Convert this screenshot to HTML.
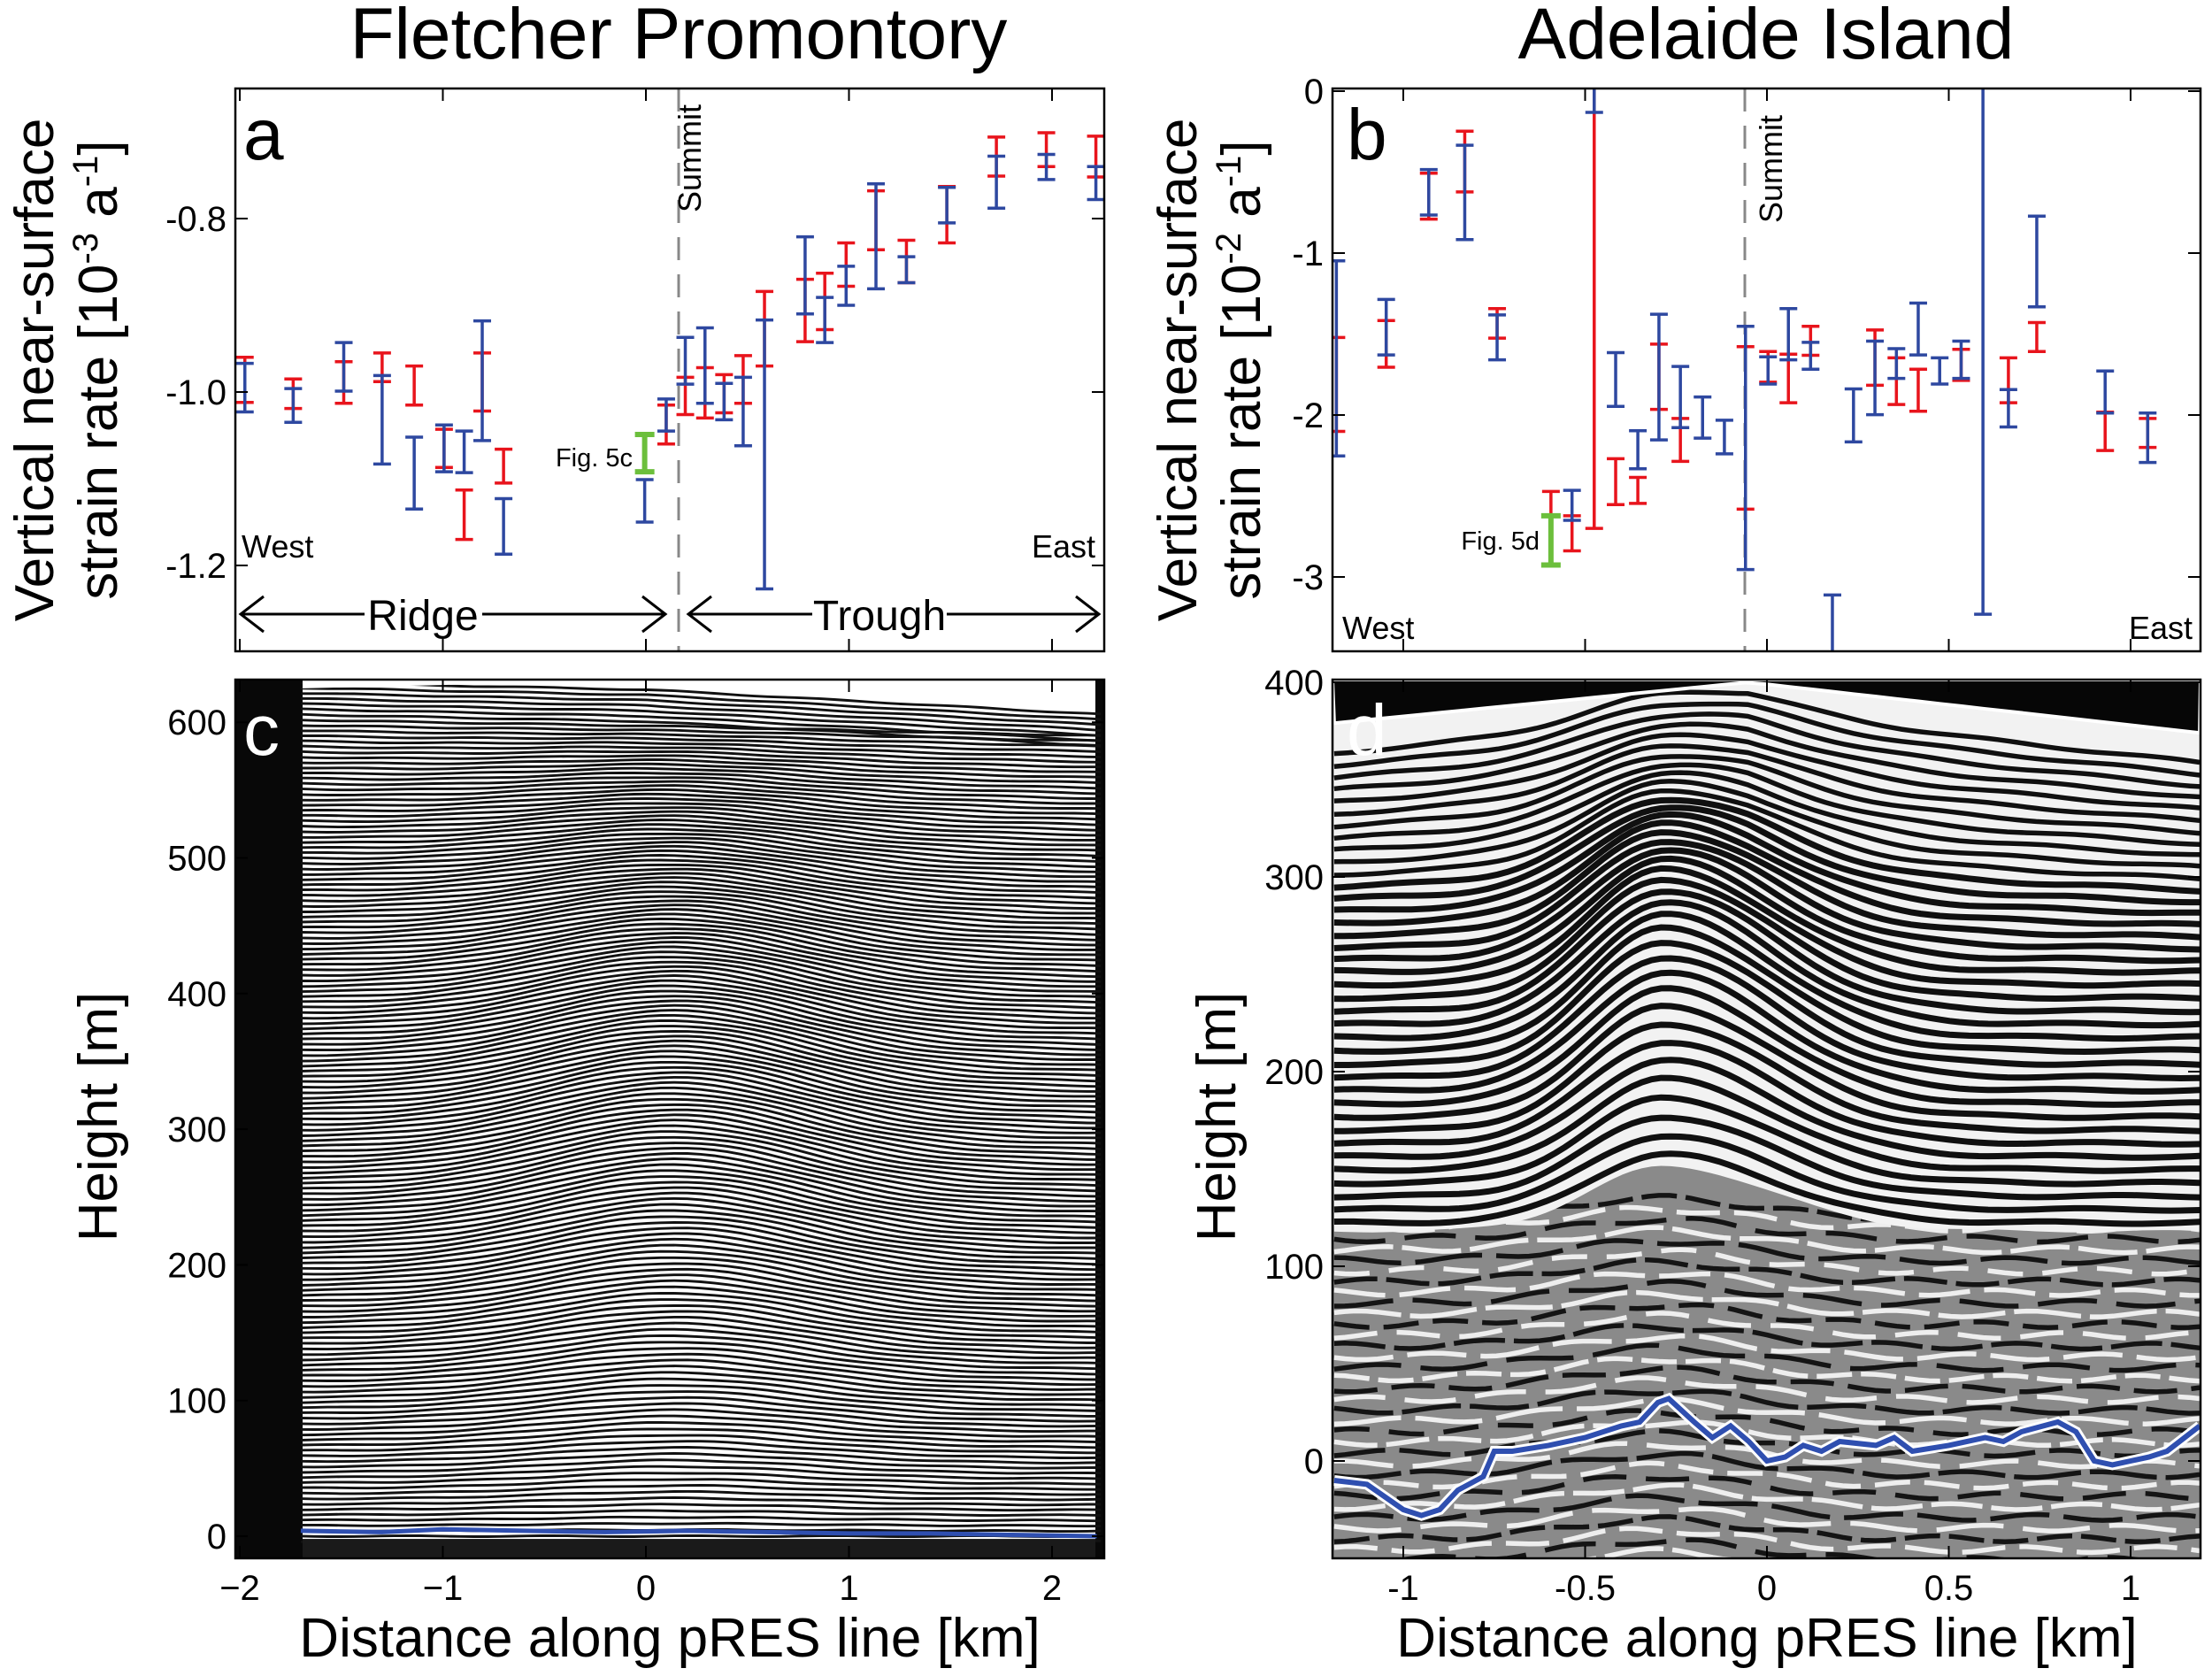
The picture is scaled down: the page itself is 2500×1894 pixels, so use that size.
<!DOCTYPE html>
<html><head><meta charset="utf-8">
<style>
html,body{margin:0;padding:0;background:#fff;width:2500px;height:1894px;overflow:hidden;position:relative;}
svg{display:block;font-family:"Liberation Sans",Arial,sans-serif;}
</style></head>
<body>
<svg id="fig" width="2500" height="1894" viewBox="0 0 2500 1894" xmlns="http://www.w3.org/2000/svg" style="position:absolute;left:0;top:0">
<defs>
<clipPath id="clipA"><rect x="266" y="100" width="982" height="636"/></clipPath>
<clipPath id="clipB"><rect x="1506" y="100" width="981" height="636"/></clipPath>
<clipPath id="clipC"><rect x="266" y="768" width="982" height="993"/></clipPath>
<clipPath id="clipD"><rect x="1506" y="768" width="981" height="993"/></clipPath>
</defs>
<g id="layer"></g>
</svg>
<script>
// ---------- Panel a data (strain rate, 1e-3 a^-1) ----------
const aRedX  = [-1.975,-1.737,-1.488,-1.299,-1.141,-0.994,-0.895,-0.806,-0.701,0.100,0.194,0.291,0.385,0.479,0.584,0.784,0.881,0.986,1.133,1.283,1.482,1.726,1.972,2.216];
const aRedHi = [-0.960,-0.985,-0.965,-0.955,-0.970,-1.043,-1.113,-0.955,-1.066,-1.015,-0.983,-0.972,-0.980,-0.958,-0.884,-0.870,-0.863,-0.828,-0.768,-0.825,-0.763,-0.706,-0.701,-0.705];
const aRedLo = [-1.012,-1.019,-1.013,-0.988,-1.015,-1.087,-1.170,-1.022,-1.105,-1.060,-1.026,-1.030,-1.024,-1.013,-0.970,-0.942,-0.928,-0.878,-0.836,-0.874,-0.828,-0.751,-0.740,-0.752];
const aBlueX  = [-1.975,-1.737,-1.488,-1.299,-1.141,-0.994,-0.895,-0.806,-0.701,-0.006,0.100,0.194,0.291,0.385,0.479,0.584,0.784,0.881,0.986,1.133,1.283,1.482,1.726,1.972,2.216];
const aBlueHi = [-0.967,-0.996,-0.943,-0.981,-1.052,-1.038,-1.045,-0.918,-1.123,-1.101,-1.008,-0.937,-0.926,-0.990,-0.983,-0.917,-0.821,-0.891,-0.855,-0.760,-0.844,-0.764,-0.728,-0.726,-0.740];
const aBlueLo = [-1.023,-1.035,-0.999,-1.083,-1.135,-1.092,-1.093,-1.056,-1.187,-1.150,-1.045,-0.991,-1.013,-1.032,-1.062,-1.227,-0.910,-0.943,-0.900,-0.881,-0.874,-0.805,-0.788,-0.755,-0.778];
const aGreen = [-0.006,-1.049,-1.092];
// ---------- Panel b data (strain rate, 1e-2 a^-1) ----------
const bRedX  = [-1.184,-1.047,-0.930,-0.831,-0.742,-0.594,-0.536,-0.475,-0.416,-0.355,-0.297,-0.238,-0.059,0.003,0.059,0.120,0.297,0.356,0.416,0.534,0.664,0.742,0.930,1.047];
const bRedHi = [-1.521,-1.417,-0.507,-0.247,-1.343,-2.472,-2.622,0.2,-2.270,-2.385,-1.562,-2.021,-1.578,-1.608,-1.624,-1.452,-1.475,-1.647,-1.717,-1.594,-1.647,-1.429,-1.982,-2.021];
const bRedLo = [-2.101,-1.705,-0.790,-0.622,-1.525,-2.922,-2.839,-2.700,-2.553,-2.546,-1.965,-2.286,-2.581,-1.797,-1.924,-1.631,-1.816,-1.935,-1.977,-1.786,-1.924,-1.608,-2.219,-2.200];
const bBlueX  = [-1.184,-1.047,-0.930,-0.831,-0.742,-0.536,-0.475,-0.416,-0.355,-0.297,-0.238,-0.177,-0.117,-0.059,0.003,0.059,0.120,0.180,0.238,0.297,0.356,0.416,0.475,0.534,0.594,0.664,0.742,0.930,1.047];
const bBlueHi = [-1.048,-1.286,-0.484,-0.334,-1.382,-2.465,0.3,-1.615,-2.097,-1.378,-1.700,-1.889,-2.032,-1.452,-1.641,-1.343,-1.551,-3.111,-1.839,-1.544,-1.590,-1.309,-1.647,-1.544,0.2,-1.843,-0.772,-1.728,-1.988];
const bBlueLo = [-2.253,-1.629,-0.765,-0.917,-1.659,-2.650,-0.131,-1.947,-2.332,-2.154,-2.078,-2.143,-2.240,-2.954,-1.809,-1.659,-1.717,-4.0,-2.166,-1.998,-1.774,-1.629,-1.809,-1.774,-3.230,-2.074,-1.332,-1.988,-2.293];
const bGreen = [-0.594,-2.622,-2.926];
// ---------- Bed lines ----------
const bedCx = [-1.70,-1.3,-1.0,-0.6,-0.2,0.2,0.6,1.0,1.4,1.8,2.22];
const bedCh = [4,3,5,4,3,4,3,2,2,1,0];
const bedDx = [-1.19,-1.1,-1.0,-0.95,-0.9,-0.85,-0.78,-0.75,-0.7,-0.6,-0.5,-0.4,-0.35,-0.3,-0.27,-0.2,-0.15,-0.1,-0.05,0,0.05,0.1,0.15,0.2,0.3,0.35,0.4,0.5,0.6,0.65,0.7,0.8,0.85,0.9,0.95,1.0,1.05,1.1,1.19];
const bedDh = [-10,-12,-25,-28,-25,-15,-8,5,5,8,12,18,20,30,32,20,12,18,10,0,2,8,5,10,8,12,5,8,12,10,15,20,15,0,-2,0,2,5,18];
// ---------- ticks ----------
const aYTicks=[-0.8,-1.0,-1.2], aYLabels=["-0.8","-1.0","-1.2"];
const kmTicks=[-2,-1,0,1,2], kmLabels=["\u22122","\u22121","0","1","2"];
const bYTicks=[0,-1,-2,-3], bYLabels=["0","-1","-2","-3"];
const dXTicks=[-1,-0.5,0,0.5,1], dXLabels=["-1","-0.5","0","0.5","1"];
const cYTicks=[0,100,200,300,400,500,600], cYLabels=["0","100","200","300","400","500","600"];
const dYTicks=[0,100,200,300,400], dYLabels=["0","100","200","300","400"];

const xA=v=>730+v*229.5, yA=v=>443-(v+1)*980;
const xB=v=>1997+v*411, yB=v=>103-v*183;
const yC=h=>1736-h*1.533, yD=h=>1651-h*2.2;
const NS="http://www.w3.org/2000/svg";
const root=document.getElementById('layer');
function mk(tag,attrs,parent){const e=document.createElementNS(NS,tag);for(const k in attrs)e.setAttribute(k,attrs[k]);(parent||root).appendChild(e);return e;}
function txt(s,x,y,size,anchor,parent,extra){const t=mk('text',Object.assign({x:x,y:y,'font-size':size,'text-anchor':anchor||'start',fill:'#000'},extra||{}),parent);t.textContent=s;return t;}

// ---------- Radargram C ----------
const gC=mk('g',{'clip-path':'url(#clipC)'});


mk('rect',{x:266,y:768,width:982,height:993,fill:'#fff'},gC);
mk('rect',{x:266,y:768,width:76,height:993,fill:'#080808'},gC);
mk('rect',{x:1238,y:768,width:10,height:993,fill:'#080808'},gC);
(function(){
  let k=0;
  for(let h0=624;h0>-4;h0-=3.9,k++){
    let d='';
    for(let i=0;i<=60;i++){
      const x=-1.70+i*(3.94/60);
      const s=Math.sin(Math.PI*Math.min(Math.max(h0,0),600)/600);
      let h=h0+38*s*Math.exp(-Math.pow((x-0.15)/0.9,2))-3*x*(h0/600);
      h+=0.35*Math.sin(x*9+k*0.9);
      if(h0>600) h+= (x<0?0:-5*x);
      d+=(i?'L':'M')+xA(x).toFixed(1)+' '+yC(h).toFixed(1);
    }
    mk('path',{d:d,fill:'none',stroke:'#111','stroke-width':2.9},gC);
  }
  mk('rect',{x:342,y:yC(-2),width:896,height:40,fill:'#1a1a1a'},gC);
  mk('path',{d:`M342 768 L1238 768 L1238 ${yC(612)} L${xA(0)} ${yC(631)} L342 ${yC(625)} Z`,fill:'#fff'},gC);
  let bd='';bedCx.forEach((x,i)=>{bd+=(i?'L':'M')+xA(x).toFixed(1)+' '+yC(bedCh[i]).toFixed(1);});
  const bl=mk('path',{d:bd,fill:'none',stroke:'#2f4fb0','stroke-width':5},gC);
  
  
})();

// ---------- Radargram D ----------
const gD=mk('g',{'clip-path':'url(#clipD)'});


mk('rect',{x:1506,y:768,width:981,height:993,fill:'#8a8a8a'},gD);
const surfD=x=> x<-0.05 ? 379+(x+1.19)/1.14*21 : 400-(x+0.05)/1.24*26;
function layerH(h0,x,k){
  const A=55*Math.exp(-Math.pow((h0-215)/110,2))+8;
  const sg=x<-0.28?0.3:0.42;
  let h=h0+A*Math.exp(-Math.pow((x+0.28)/sg,2));
  h+=(surfD(x)-390)*Math.max(0,(h0-250)/130);
  h+=0.6*Math.sin(x*13+k*1.3);
  return h;
}
(function(){
  let k=0;
  for(let h0=125;h0>-60;h0-=5.5,k++){
    let d='';
    for(let i=0;i<=80;i++){
      const x=-1.19+i*(2.38/80);
      const h=h0+1.5*Math.sin(x*17+k*2.3)+10*Math.exp(-Math.pow((x+0.3)/0.35,2));
      d+=(i?'L':'M')+xB(x).toFixed(1)+' '+yD(h).toFixed(1);
    }
    mk('path',{d:d,fill:'none',stroke:(k%2?'#eeeeee':'#141414'),'stroke-width':5.5,'stroke-dasharray':(40+k%5*9)+' '+(10+k%3*6)},gD);
  }
  // light background above lowest layer
  let lowest=118, lb='M1506 768';
  for(let i=0;i<=90;i++){const x=-1.19+i*(2.38/90);lb+='L'+xB(x).toFixed(1)+' '+yD(layerH(lowest,x,0)).toFixed(1);}
  lb+='L2487 768Z';
  mk('path',{d:lb,fill:'#f2f2f2'},gD);
  k=0;
  for(let h0=374;h0>=118;h0-=6.8,k++){
    let d='';
    for(let i=0;i<=90;i++){
      const x=-1.19+i*(2.38/90);
      d+=(i?'L':'M')+xB(x).toFixed(1)+' '+yD(layerH(h0,x,k)).toFixed(1);
    }
    mk('path',{d:d,fill:'none',stroke:'#101010','stroke-width':h0>300?5.5:7},gD);
  }
  let sd='M1506 768';
  for(let i=0;i<=40;i++){const x=-1.19+i*(2.38/40);sd+='L'+xB(x).toFixed(1)+' '+yD(surfD(x)).toFixed(1);}
  sd+='L2487 768Z';
  mk('path',{d:sd,fill:'#060606',stroke:'#fff','stroke-width':4},gD);
  let bd='';bedDx.forEach((x,i)=>{bd+=(i?'L':'M')+xB(x).toFixed(1)+' '+yD(bedDh[i]).toFixed(1);});
  mk('path',{d:bd,fill:'none',stroke:'#fff','stroke-width':12},gD);
  const bl=mk('path',{d:bd,fill:'none',stroke:'#2f4fb0','stroke-width':6},gD);
  
  
})();

// ---------- error bars ----------
function ebar(g,xs,his,los,fx,fy,color,name,w,cap){
  xs.forEach((x,i)=>{
    const eg=mk('g',{},g);
    
    
    const X=fx(x),Y1=fy(his[i]),Y2=fy(los[i]);
    mk('line',{x1:X,y1:Y1,x2:X,y2:Y2,stroke:color,'stroke-width':w},eg);
    mk('line',{x1:X-cap,y1:Y1,x2:X+cap,y2:Y1,stroke:color,'stroke-width':w},eg);
    mk('line',{x1:X-cap,y1:Y2,x2:X+cap,y2:Y2,stroke:color,'stroke-width':w},eg);
  });
}
const gA=mk('g',{'clip-path':'url(#clipA)'});


mk('line',{x1:767,y1:100,x2:767,y2:736,stroke:'#888','stroke-width':3,'stroke-dasharray':'26 16'},gA);
ebar(gA,aRedX,aRedHi,aRedLo,xA,yA,'#e8141c','red-errorbar-a',3.5,10);
ebar(gA,aBlueX,aBlueHi,aBlueLo,xA,yA,'#2e48a0','blue-errorbar-a',3.5,10);
ebar(gA,[aGreen[0]],[aGreen[1]],[aGreen[2]],xA,yA,'#6cbf3c','green-errorbar-a',6,11);
const gB=mk('g',{'clip-path':'url(#clipB)'});


mk('line',{x1:1972,y1:100,x2:1972,y2:736,stroke:'#888','stroke-width':3,'stroke-dasharray':'26 16'},gB);
ebar(gB,bRedX,bRedHi,bRedLo,xB,yB,'#e8141c','red-errorbar-b',3.5,10);
ebar(gB,bBlueX,bBlueHi,bBlueLo,xB,yB,'#2e48a0','blue-errorbar-b',3.5,10);
ebar(gB,[bGreen[0]],[bGreen[1]],[bGreen[2]],xB,yB,'#6cbf3c','green-errorbar-b',6,11);

// ---------- axes boxes and ticks ----------
function box(x,y,w,h,name){const r=mk('rect',{x:x,y:y,width:w,height:h,fill:'none',stroke:'#000','stroke-width':2.5});}
box(266,100,982,636,'panel-a-axes');box(1506,100,981,636,'panel-b-axes');
box(266,768,982,993,'panel-c-axes');box(1506,768,981,993,'panel-d-axes');
const tl=14;
kmTicks.forEach(v=>{const X=xA(v);
  [[100,100+tl],[736,736-tl],[768,768+tl],[1761,1761-tl]].forEach(p=>mk('line',{x1:X,y1:p[0],x2:X,y2:p[1],stroke:'#000','stroke-width':2}));});
dXTicks.forEach(v=>{const X=xB(v);
  [[100,100+tl],[736,736-tl],[768,768+tl],[1761,1761-tl]].forEach(p=>mk('line',{x1:X,y1:p[0],x2:X,y2:p[1],stroke:'#000','stroke-width':2}));});
aYTicks.forEach((v,i)=>{const Y=yA(v);mk('line',{x1:266,y1:Y,x2:266+tl,y2:Y,stroke:'#000','stroke-width':2});mk('line',{x1:1248,y1:Y,x2:1248-tl,y2:Y,stroke:'#000','stroke-width':2});
  const t=txt(aYLabels[i],256,Y+14,40,'end');});
bYTicks.forEach((v,i)=>{const Y=yB(v);mk('line',{x1:1506,y1:Y,x2:1506+tl,y2:Y,stroke:'#000','stroke-width':2});mk('line',{x1:2487,y1:Y,x2:2487-tl,y2:Y,stroke:'#000','stroke-width':2});
  const t=txt(bYLabels[i],1496,Math.max(Y+14,114),40,'end');});
cYTicks.forEach((v,i)=>{const Y=yC(v);mk('line',{x1:266,y1:Y,x2:266+tl,y2:Y,stroke:'#000','stroke-width':2});mk('line',{x1:1248,y1:Y,x2:1248-tl,y2:Y,stroke:'#000','stroke-width':2});
  const t=txt(cYLabels[i],256,Y+14,40,'end');});
dYTicks.forEach((v,i)=>{const Y=yD(v);mk('line',{x1:1506,y1:Y,x2:1506+tl,y2:Y,stroke:'#000','stroke-width':2});mk('line',{x1:2487,y1:Y,x2:2487-tl,y2:Y,stroke:'#000','stroke-width':2});
  const t=txt(dYLabels[i],1496,Y+14,40,'end');});
kmTicks.forEach((v,i)=>{const t=txt(kmLabels[i],xA(v),1808,40,'middle');});
dXTicks.forEach((v,i)=>{const t=txt(dXLabels[i],xB(v),1808,40,'middle');});
</script>
<svg width="2500" height="1894" style="position:absolute;left:0;top:0;font-family:'Liberation Sans',Arial,sans-serif">
<text x="767" y="66" font-size="82" text-anchor="middle">Fletcher Promontory</text>
<text x="1996" y="66" font-size="82" text-anchor="middle">Adelaide Island</text>
<text x="275" y="180" font-size="82">a</text>
<text x="1522" y="180" font-size="82">b</text>
<text x="275" y="853" font-size="82" fill="#fff">c</text>
<text x="1522" y="853" font-size="82" fill="#fff">d</text>
<text transform="translate(792,240) rotate(-90)" font-size="36">Summit</text>
<text transform="translate(2014,252) rotate(-90)" font-size="36">Summit</text>
<text x="273" y="630" font-size="36">West</text>
<text x="1238" y="630" font-size="36" text-anchor="end">East</text>
<text x="1517" y="722" font-size="36">West</text>
<text x="2478" y="722" font-size="36" text-anchor="end">East</text>
<text x="715" y="527" font-size="29" text-anchor="end">Fig. 5c</text>
<text x="1740" y="621" font-size="29" text-anchor="end">Fig. 5d</text>
<g stroke="#000" stroke-width="3" fill="none">
<line x1="272" y1="694" x2="412" y2="694"/><line x1="545" y1="694" x2="752" y2="694"/>
<polyline points="298,674 272,694 298,714"/><polyline points="726,674 752,694 726,714"/>
<line x1="778" y1="694" x2="918" y2="694"/><line x1="1070" y1="694" x2="1242" y2="694"/>
<polyline points="804,674 778,694 804,714"/><polyline points="1216,674 1242,694 1216,714"/>
</g>
<text x="478" y="712" font-size="48" text-anchor="middle">Ridge</text>
<text x="994" y="712" font-size="48" text-anchor="middle">Trough</text>
<text transform="translate(60,418) rotate(-90)" font-size="62" text-anchor="middle">Vertical near-surface</text>
<text transform="translate(132,418) rotate(-90)" font-size="62" text-anchor="middle">strain rate [10<tspan font-size="40" dy="-22">-3</tspan><tspan dy="22"> a</tspan><tspan font-size="40" dy="-22">-1</tspan><tspan dy="22">]</tspan></text>
<text transform="translate(1352,418) rotate(-90)" font-size="62" text-anchor="middle">Vertical near-surface</text>
<text transform="translate(1424,418) rotate(-90)" font-size="62" text-anchor="middle">strain rate [10<tspan font-size="40" dy="-22">-2</tspan><tspan dy="22"> a</tspan><tspan font-size="40" dy="-22">-1</tspan><tspan dy="22">]</tspan></text>
<text transform="translate(132,1262) rotate(-90)" font-size="62" text-anchor="middle">Height [m]</text>
<text transform="translate(1396,1262) rotate(-90)" font-size="62" text-anchor="middle">Height [m]</text>
<text x="757" y="1872" font-size="62" text-anchor="middle">Distance along pRES line [km]</text>
<text x="1997" y="1872" font-size="62" text-anchor="middle">Distance along pRES line [km]</text>
</svg>
</body></html>
